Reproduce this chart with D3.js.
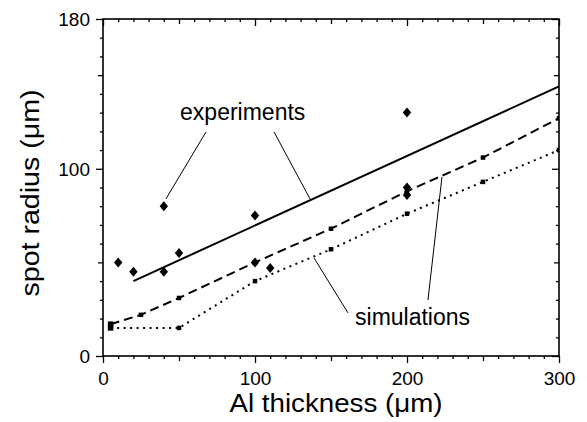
<!DOCTYPE html>
<html>
<head>
<meta charset="utf-8">
<script src="https://cdn.jsdelivr.net/npm/d3@7"></script>
<style>
  html, body { margin: 0; padding: 0; background: #fff; }
  svg { display: block; }
  text { font-family: Arial, "Liberation Sans", Helvetica, sans-serif; fill: #000; }
</style>
</head>
<body>
<svg id="chart" width="587" height="422"></svg>
<script>
// ---- data ----
const expX = [10, 20, 40, 40, 50, 100, 100, 110, 200, 200, 200];
const expY = [50, 45, 80, 45, 55, 75, 50, 47, 130, 90, 86];

const fitX = [20, 300];
const fitY = [40, 144];

const simDashX = [5, 25, 50, 100, 150, 200, 250, 300];
const simDashY = [17, 22, 31, 50, 68, 88, 106, 127];

const simDotX = [5, 50, 100, 150, 200, 250, 300];
const simDotY = [15, 15, 40, 57, 76, 93, 110];

const xTickLabels = [0, 100, 200, 300];
const yTickLabels = [0, 100, 180];

const labelTexts = ["experiments", "simulations"];
const labelX = [50.7, 165.8];
const labelY = [126, 16.6];

// leader lines: [x1, y1, x2, y2] in data units
const leaderX1 = [67.8, 112.5, 161.2, 213.8];
const leaderY1 = [119.7, 119.7, 23.0, 29.9];
const leaderX2 = [41.4, 136.2, 138.8, 223.0];
const leaderY2 = [83.9, 83.9, 52.4, 95.6];

// ---- layout ----
const L = 103, T = 19, R = 559, B = 356;
const svg = d3.select("#chart");
const x = d3.scaleLinear().domain([0, 300]).range([L, R]);
const y = d3.scaleLinear().domain([0, 180]).range([B, T]);

const xTicks = d3.range(0, 301, 10);
const yTicks = d3.range(0, 181, 10);
const tickLen = (v, majors) => majors.includes(v) ? 7 : (v % 50 === 0 ? 5 : 3);

// clip
svg.append("defs").append("clipPath").attr("id", "plotclip")
  .append("rect").attr("x", L).attr("y", T).attr("width", R - L).attr("height", B - T);

// ---- axes ----
const axisStyle = g => {
  g.select(".domain").remove();
  g.selectAll("line").attr("stroke", "#000").attr("stroke-width", 1.3);
};

// bottom
const gB = svg.append("g").attr("transform", `translate(0,${B})`)
  .call(d3.axisBottom(x).tickValues(xTicks).tickFormat(d => xTickLabels.includes(d) ? d : ""));
axisStyle(gB);
gB.selectAll(".tick line").attr("y2", d => tickLen(d, xTickLabels));
gB.selectAll(".tick text").attr("y", 29).attr("dy", 0)
  .style("font-size", "19px").style("font-family", "Arial, 'Liberation Sans', sans-serif");

// top (ticks inward)
const gT = svg.append("g").attr("transform", `translate(0,${T})`)
  .call(d3.axisTop(x).tickValues(xTicks).tickFormat(""));
axisStyle(gT);
gT.selectAll(".tick line").attr("y2", d => tickLen(d, xTickLabels));

// left (ticks outward)
const gL = svg.append("g").attr("transform", `translate(${L},0)`)
  .call(d3.axisLeft(y).tickValues(yTicks).tickFormat(d => yTickLabels.includes(d) ? d : ""));
axisStyle(gL);
gL.selectAll(".tick line").attr("x2", d => -tickLen(d, yTickLabels));
gL.selectAll(".tick text").attr("x", -13).attr("dy", "0.36em")
  .style("font-size", "19px").style("font-family", "Arial, 'Liberation Sans', sans-serif");

// right (ticks inward)
const gR = svg.append("g").attr("transform", `translate(${R},0)`)
  .call(d3.axisRight(y).tickValues(yTicks).tickFormat(""));
axisStyle(gR);
gR.selectAll(".tick line").attr("x2", d => -tickLen(d, yTickLabels));

// frame
svg.append("rect").attr("x", L).attr("y", T).attr("width", R - L).attr("height", B - T)
  .attr("fill", "none").attr("stroke", "#000").attr("stroke-width", 1.6);

// ---- axis titles ----
svg.append("text").attr("x", (L + R) / 2 + 5).attr("y", 412)
  .attr("text-anchor", "middle").style("font-size", "25px")
  .attr("textLength", 213).attr("lengthAdjust", "spacingAndGlyphs")
  .text("Al thickness (\u03bcm)");

svg.append("text").attr("transform", "translate(39,193) rotate(-90)")
  .attr("text-anchor", "middle").style("font-size", "25px")
  .attr("textLength", 207).attr("lengthAdjust", "spacingAndGlyphs")
  .text("spot radius (\u03bcm)");

// ---- data marks ----
const plot = svg.append("g").attr("clip-path", "url(#plotclip)");
const line = d3.line().x(d => x(d[0])).y(d => y(d[1]));

plot.append("path").datum(d3.zip(fitX, fitY)).attr("d", line)
  .attr("fill", "none").attr("stroke", "#000").attr("stroke-width", 2);

plot.append("path").datum(d3.zip(simDashX, simDashY)).attr("d", line)
  .attr("fill", "none").attr("stroke", "#000").attr("stroke-width", 2)
  .attr("stroke-dasharray", "9,5");

plot.append("path").datum(d3.zip(simDotX, simDotY)).attr("d", line)
  .attr("fill", "none").attr("stroke", "#000").attr("stroke-width", 2)
  .attr("stroke-dasharray", "2,4.5");

const sq = (i) => i === 0 ? 5.5 : 4.5;
[[simDashX, simDashY], [simDotX, simDotY]].forEach(([xs, ys]) => {
  plot.selectAll(null).data(d3.zip(xs, ys)).enter().append("rect")
    .attr("x", (d, i) => x(d[0]) - sq(i) / 2)
    .attr("y", (d, i) => y(d[1]) - sq(i) / 2)
    .attr("width", (d, i) => sq(i)).attr("height", (d, i) => sq(i))
    .attr("fill", "#000");
});

plot.selectAll(null).data(d3.zip(expX, expY)).enter().append("path")
  .attr("transform", d => `translate(${x(d[0])},${y(d[1])})`)
  .attr("d", "M0,-5L4.2,0L0,5L-4.2,0Z")
  .attr("fill", "#000");

// ---- annotations ----
svg.selectAll(null).data(d3.range(leaderX1.length)).enter().append("line")
  .attr("x1", i => x(leaderX1[i])).attr("y1", i => y(leaderY1[i]))
  .attr("x2", i => x(leaderX2[i])).attr("y2", i => y(leaderY2[i]))
  .attr("stroke", "#000").attr("stroke-width", 1);

svg.selectAll(null).data(labelTexts).enter().append("text")
  .attr("x", (d, i) => x(labelX[i])).attr("y", (d, i) => y(labelY[i]))
  .style("font-size", "23px")
  .text(d => d);
</script>
</body>
</html>
